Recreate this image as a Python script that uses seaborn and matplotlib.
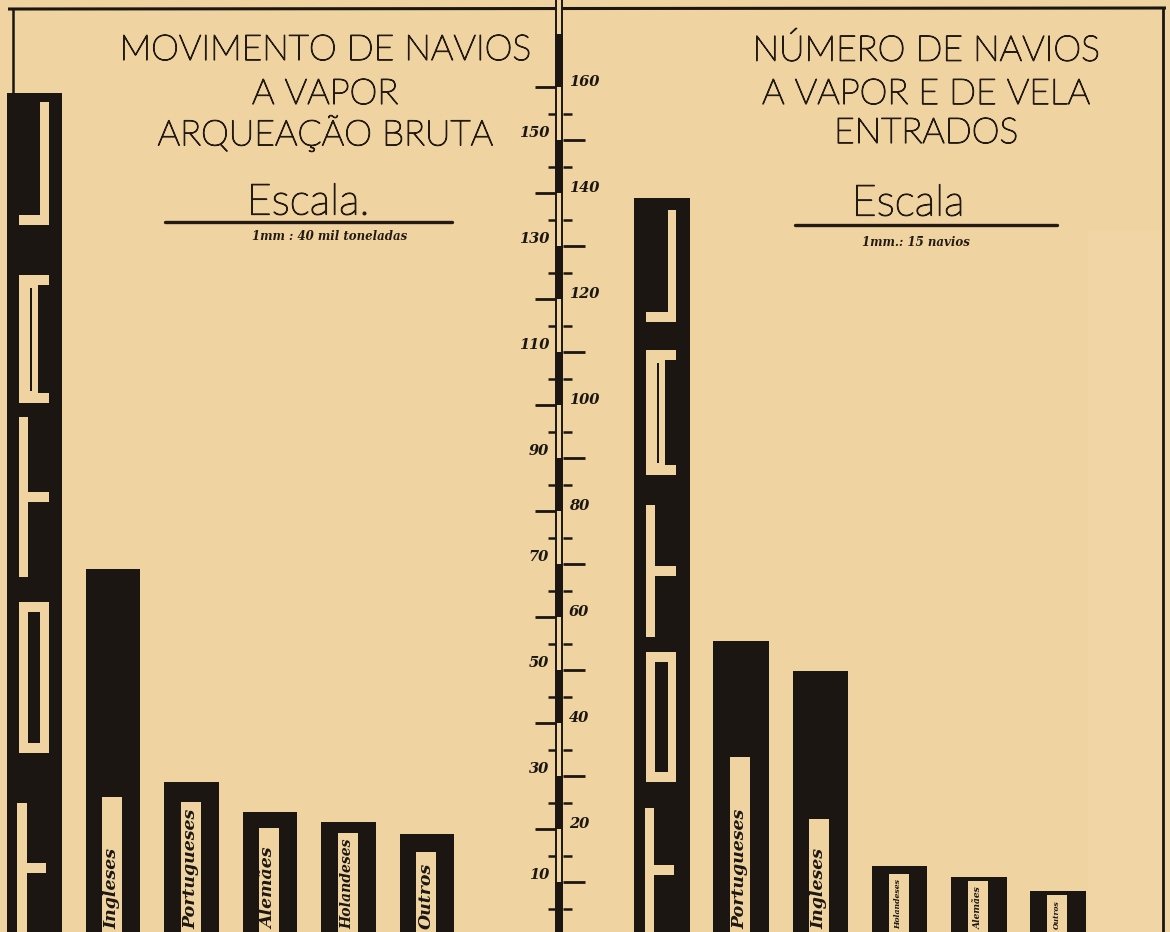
import numpy as np
import pandas as pd
import matplotlib
matplotlib.use("Agg")
import matplotlib.pyplot as plt
import matplotlib.patheffects as pe
import seaborn as sns
from matplotlib.patches import Rectangle

# ---------------- data (bar lengths in mm of the drawn scale) ----------------
left_title = ["MOVIMENTO DE NAVIOS", "A VAPOR", "ARQUEAÇÃO BRUTA"]
left_scale_note = "1mm : 40 mil toneladas"
left_categories = ["Total", "Ingleses", "Portugueses", "Alemães", "Holandeses", "Outros"]
left_values = [158.9, 69.0, 28.9, 23.3, 21.4, 19.0]

right_title = ["NÚMERO DE NAVIOS", "A VAPOR E DE VELA", "ENTRADOS"]
right_scale_note = "1mm.: 15 navios"
right_categories = ["Total", "Portugueses", "Ingleses", "Holandeses", "Alemães", "Outros"]
right_values = [139.1, 55.5, 49.8, 13.0, 10.9, 8.3]

ruler_left_labels = [10, 30, 50, 70, 90, 110, 130, 150]
ruler_right_labels = [20, 40, 60, 80, 100, 120, 140, 160]
scale_word_left = "Escala."
scale_word_right = "Escala"

# ---------------- style ----------------
PAPER = "#efd3a1"
PAPER_LIGHT = "#f1d5a4"
INK = "#1b1611"
TEXT = "#231b13"
W, H = 1170, 932
PXU = 5.3          # pixels per scale unit
ZERO = 935.0       # pixel row of the zero line
Y0 = (ZERO - H) / PXU
Y1 = ZERO / PXU

def v(py):
    return (ZERO - py) / PXU

sns.set_theme(style="white")
plt.rcParams["font.family"] = ["DejaVu Sans"]

fig = plt.figure(figsize=(W / 100, H / 100), dpi=100, facecolor=PAPER)

# background / frame axes in pixel coordinates
bg = fig.add_axes([0, 0, 1, 1])
bg.set_xlim(0, W); bg.set_ylim(H, 0); bg.axis("off"); bg.set_zorder(0)
bg.add_patch(Rectangle((1088, 230), 75, 702, color=PAPER_LIGHT, lw=0))
bg.plot([8, 1166], [9, 8], color=INK, lw=2.2, solid_capstyle="butt")
bg.plot([13, 13], [9, 932], color=INK, lw=1.8)
bg.plot([1163, 1163], [8, 932], color=INK, lw=2.0)

# titles
thick = [pe.withStroke(linewidth=0.9, foreground=TEXT)]
title_kw = dict(color=TEXT, family=["Lato", "DejaVu Sans"], fontweight="light",
                fontsize=25.5, ha="center", va="center", path_effects=thick)
for i, yy in enumerate([50, 94, 133]):
    bg.text(325, yy, left_title[i], **title_kw)
    bg.text(926, yy, right_title[i], **title_kw)
esc_kw = dict(color=TEXT, family=["Lato", "DejaVu Sans"], fontweight="light",
              fontsize=31, ha="center", va="center", path_effects=thick)
bg.text(308, 203, scale_word_left, **esc_kw)
bg.text(908, 204, scale_word_right, **esc_kw)
bg.plot([165, 452], [222, 222], color=TEXT, lw=2.4)
bg.plot([795, 1057], [225, 225], color=TEXT, lw=2.4)
note_kw = dict(color=TEXT, family=["DejaVu Serif"], fontstyle="italic",
               fontweight="bold", fontsize=8.5, ha="center", va="center")
bg.text(330, 236, left_scale_note, **note_kw)
bg.text(916, 242, right_scale_note, **note_kw)

# ---------------- panels ----------------
def make_panel(x0_px, x1_px, first_center, step, width, cats, vals):
    ax = fig.add_axes([x0_px / W, 0, (x1_px - x0_px) / W, 1])
    ax.set_zorder(1)
    ax.patch.set_alpha(0)
    sns.barplot(x=cats, y=vals, order=cats, color=INK, saturation=1,
                width=width, errorbar=None, linewidth=0, edgecolor=INK, ax=ax)
    ax.set_xlim((x0_px - first_center) / step, (x1_px - first_center) / step)
    ax.set_ylim(Y0, Y1)
    ax.axis("off")
    return ax

axL = make_panel(0, 555, 34.5, 78.5, 0.70, left_categories, left_values)
axR = make_panel(565, 1170, 662, 79.2, 0.70, right_categories, right_values)

# slot tops (scale units) for the label windows, style only
left_slot_top = [None, 26.0, 25.1, 20.2, 19.2, 15.7]
right_slot_top = [None, 33.6, 21.9, 11.5, 10.2, 7.5]

label_texts = []
def add_slots(ax, step, cats, slot_tops):
    sw = 20 / step
    for i, bar in enumerate(ax.patches[:len(cats)]):
        top = slot_tops[i]
        if top is None:
            continue
        cx = bar.get_x() + bar.get_width() / 2 - 1 / step
        r = Rectangle((cx - sw / 2, Y0 - 1), sw, top - Y0 + 1,
                      color=PAPER, lw=0, zorder=5)
        ax.add_patch(r)
        t = ax.text(cx, v(929), cats[i], rotation=90, ha="center", va="bottom",
                    color=INK, family=["DejaVu Serif"], fontstyle="italic",
                    fontweight="bold", fontsize=12.5, zorder=6, clip_on=True)
        t.set_clip_path(r)
        label_texts.append((t, (top - v(929)) * PXU - 5))

add_slots(axL, 78.5, left_categories, left_slot_top)
add_slots(axR, 79.2, right_categories, right_slot_top)

# "TOTAL" lettering cut into the first bar of each panel
def add_total_letters(ax, bands):
    bar = ax.patches[0]
    bx, bw = bar.get_x(), bar.get_width()
    a, b, c, d = 0.22, 0.38, 0.60, 0.76
    def stroke(f0, f1, p0, p1, col=PAPER):
        ax.add_patch(Rectangle((bx + f0 * bw, v(p1)), (f1 - f0) * bw, v(p0) - v(p1),
                               color=col, lw=0, zorder=5))
    (l0, l1), (a0, a1), (t0, t1), (o0, o1), (u0, u1) = bands
    # L
    stroke(c, d, l0, l1); stroke(a, d, l1 - 10, l1)
    # A
    stroke(a, d, a0, a0 + 10); stroke(a, d, a1 - 10, a1); stroke(a, 0.56, a0, a1)
    stroke(0.41, 0.45, a0 + 13, a1 - 12, INK)
    # T
    stroke(a, b, t0, t1); m = (t0 + t1) / 2; stroke(b, d, m - 5, m + 5)
    # O
    stroke(a, b, o0, o1); stroke(c, d, o0, o1)
    stroke(a, d, o0, o0 + 10); stroke(a, d, o1 - 10, o1)
    # T
    stroke(a - 0.03, b - 0.02, u0, u1 + 10); m = (u0 + u1) / 2
    stroke(b - 0.02, d - 0.05, m - 5, m + 5)

add_total_letters(axL, [(102, 225), (275, 403), (417, 577), (602, 753), (803, 932)])
add_total_letters(axR, [(210, 322), (350, 475), (505, 637), (652, 782), (808, 932)])

# ---------------- central ruler ----------------
ru = fig.add_axes([0, 0, 1, 1])
ru.set_xlim(0, W); ru.set_ylim(Y0, Y1); ru.axis("off"); ru.set_zorder(3)
ru.patch.set_alpha(0)
RX0, RX1 = 555, 563
ru.add_patch(Rectangle((RX0, Y0), RX1 - RX0, Y1 - Y0, color=PAPER, lw=0))
seg_bottoms = np.arange(0, 170, 20)
ru.bar(x=(RX0 + RX1) / 2, height=10, bottom=seg_bottoms, width=RX1 - RX0,
       color=INK, linewidth=0)
ru.vlines([RX0 + 0.6, RX1 - 0.6], Y0, Y1, color=INK, lw=1.4)
for t in np.arange(5, 165, 5):
    if t % 10 == 5:
        ru.hlines(t, 548, RX0, color=INK, lw=1.8)
        ru.hlines(t, RX1, 572, color=INK, lw=1.8)
    elif t % 20 == 0:
        ru.hlines(t, 535, RX0, color=INK, lw=2.0)
    else:
        ru.hlines(t, RX1, 585, color=INK, lw=2.0)
num_kw = dict(color=INK, family=["DejaVu Serif"], fontstyle="italic",
              fontweight="bold", fontsize=10.5, va="center")
for lab in ruler_left_labels:
    ru.text(549, lab + 1.3, str(lab), ha="right", **num_kw)
for lab in ruler_right_labels:
    ru.text(569, lab + 0.9, str(lab), ha="left", **num_kw)

# fit the rotated labels inside their windows
fig.canvas.draw()
rend = fig.canvas.get_renderer()
for t, avail in label_texts:
    L = t.get_window_extent(rend).height
    if L > avail:
        t.set_fontsize(t.get_fontsize() * avail / L)

fig.savefig("out.png", dpi=100, facecolor=PAPER)
